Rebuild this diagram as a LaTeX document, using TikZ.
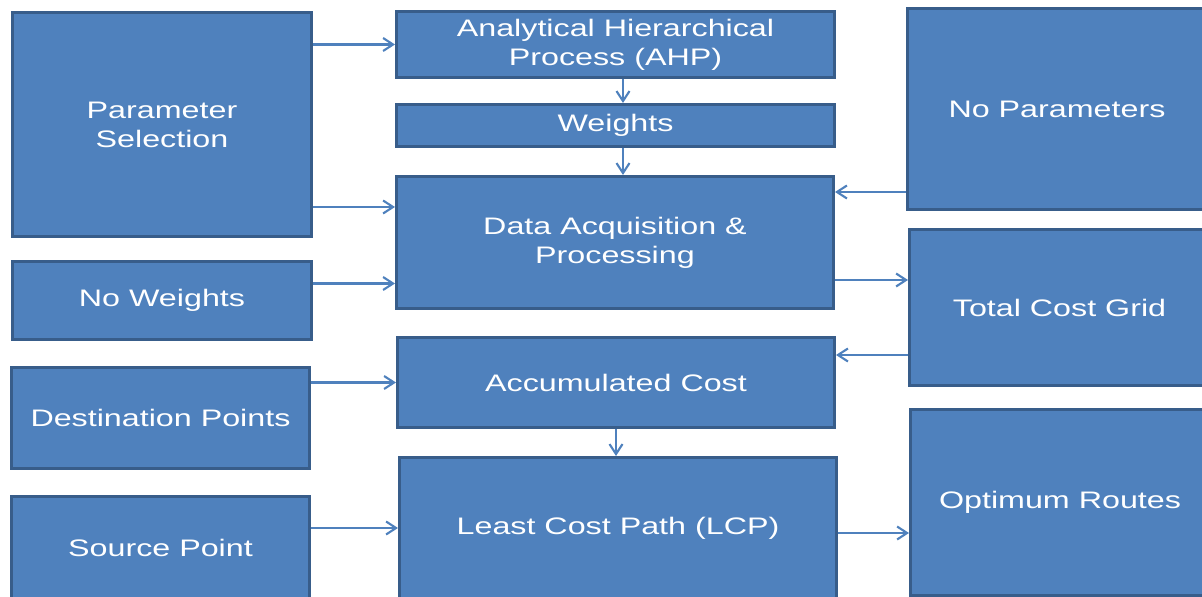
\documentclass[tikz,border=0pt]{standalone}
\usepackage{fontspec}
\setmainfont{Liberation Sans}[FakeStretch=1.35]
\usepackage{tikz}
\usetikzlibrary{arrows.meta}
\definecolor{boxfill}{HTML}{4F81BD}
\definecolor{boxline}{HTML}{385D8A}
\tikzset{
  blk/.style={draw=boxline, fill=boxfill, line width=1.7pt, text=white, align=center,
    inner sep=0pt, font=\fontsize{13.6}{16.5}\selectfont},
  conn/.style={draw=boxfill, line width=1.2pt, -{Straight Barb[length=0.2cm,width=0.26cm]}}
}

\begin{document}
\begin{tikzpicture}[x=0.02cm,y=-0.02cm]
        \useasboundingbox (0,0) rectangle (1202,597);
        \clip (0,0) rectangle (1202,597);
        %left column
        \node[blk, minimum width=299*0.02cm, minimum height=224*0.02cm] (psel) at (162,124.5) {Parameter\\Selection};
        \node[blk, minimum width=299*0.02cm, minimum height=78*0.02cm] (nowts) at (162,300.5) {No Weights};
        \node[blk, minimum width=298*0.02cm, minimum height=101*0.02cm] (dest) at (160.5,418) {Destination Points};
        \node[blk, minimum width=298*0.02cm, minimum height=103*0.02cm] (src) at (160.5,548) {Source Point};
        %middle column
        \node[blk, minimum width=438*0.02cm, minimum height=66*0.02cm] (ahp) at (615.5,44.5) {Analytical Hierarchical\\Process (AHP)};
        \node[blk, minimum width=438*0.02cm, minimum height=42*0.02cm] (wts) at (615.5,125.5) {Weights};
        \node[blk, minimum width=437*0.02cm, minimum height=132*0.02cm] (daq) at (615,242.5) {Data Acquisition \&\\Processing};
        \node[blk, minimum width=437*0.02cm, minimum height=90*0.02cm] (acc) at (616,382.5) {Accumulated Cost};
        \node[blk, minimum width=437*0.02cm, minimum height=141*0.02cm] (lcp) at (618,528) {Least Cost Path (LCP)};
        %right column
        \node[blk, minimum width=299*0.02cm, minimum height=201*0.02cm] (nopar) at (1057,109) {No Parameters};
        \node[blk, minimum width=300*0.02cm, minimum height=156*0.02cm] (tcg) at (1059.5,307.5) {Total Cost Grid};
        \node[blk, minimum width=299*0.02cm, minimum height=186*0.02cm] (opt) at (1060,502.5) {Optimum Routes};
        %connector start points
        \coordinate (p1) at ([yshift=0.62cm]psel.south east);
        \coordinate (p2) at ([yshift=0.34cm]nowts.east);
        \coordinate (p3) at ([xshift=0.15cm]ahp.south);
        \coordinate (p4) at ([xshift=0.15cm]wts.south);
        \coordinate (p5) at ([yshift=0.38cm]nopar.south west);
        \coordinate (p6) at ([yshift=0.6cm]daq.south east);
        \coordinate (p7) at ([yshift=0.64cm]tcg.south west);
        \coordinate (p8) at ([yshift=-0.1cm]lcp.east);
        %edges
        \draw[conn] (psel.east |- ahp.west) -- (ahp.west);
        \draw[conn] (p1) -- (p1 -| daq.west);
        \draw[conn] (p2) -- (p2 -| daq.west);
        \draw[conn] (dest.east |- acc.west) -- (acc.west);
        \draw[conn] (src.east |- lcp.west) -- (lcp.west);
        \draw[conn] (p3) -- (p3 |- wts.north);
        \draw[conn] (p4) -- (p4 |- daq.north);
        \draw[conn] (acc.south) -- (acc.south |- lcp.north);
        \draw[conn] (p5) -- (p5 -| daq.east);
        \draw[conn] (p6) -- (p6 -| tcg.west);
        \draw[conn] (p7) -- (p7 -| acc.east);
        \draw[conn] (p8) -- (p8 -| opt.west);
\end{tikzpicture}
\end{document}
